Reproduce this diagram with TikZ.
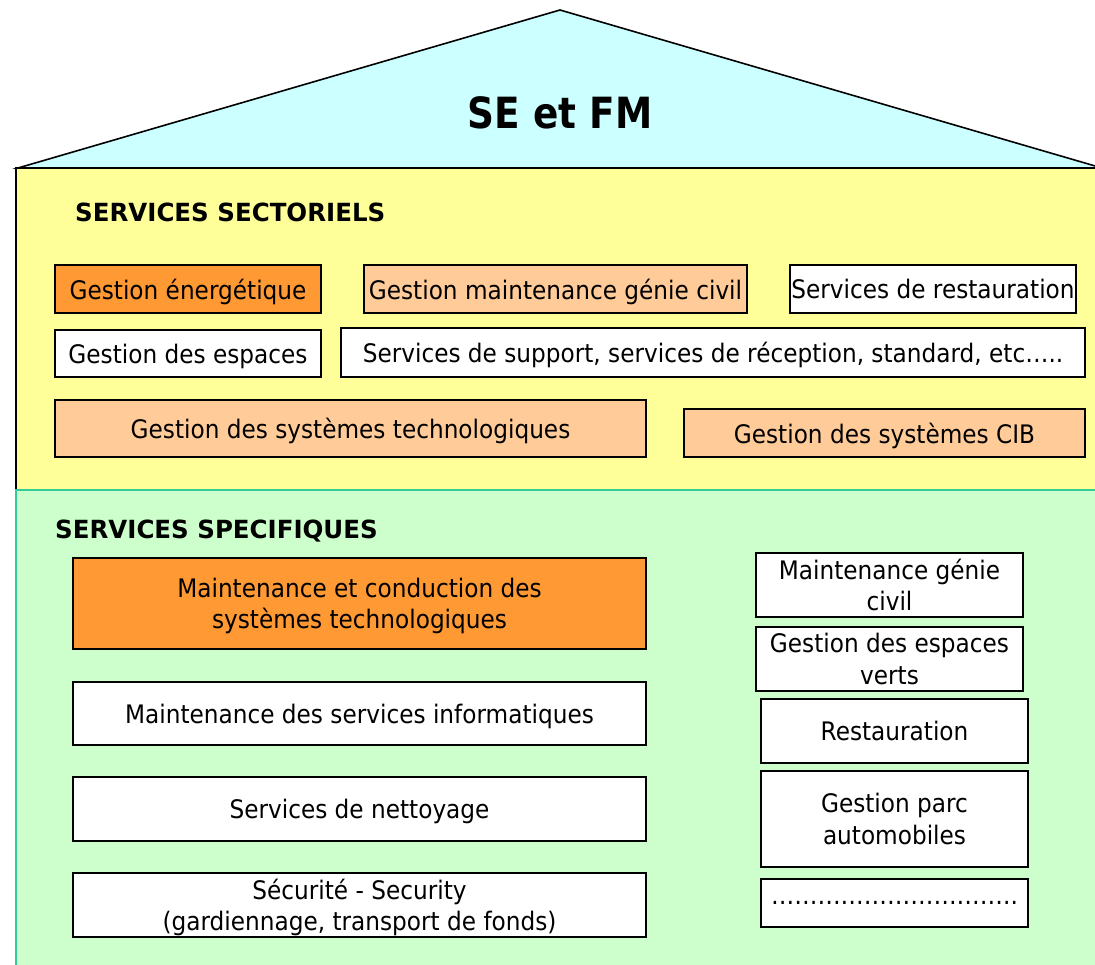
\documentclass[tikz,border=0pt]{standalone}
\usepackage{fontspec}
\setmainfont{DejaVu Sans}[FakeStretch=0.91]
\newfontfamily\headfont{DejaVu Sans}[FakeStretch=0.87]
\newfontfamily\titlefont{DejaVu Sans}[FakeStretch=0.98]
\definecolor{roofc}{HTML}{CCFFFF}
\definecolor{yel}{HTML}{FFFF99}
\definecolor{grn}{HTML}{CCFFCC}
\definecolor{grnb}{HTML}{33CC99}
\definecolor{org}{HTML}{FF9933}
\definecolor{lorg}{HTML}{FFCC99}
\tikzset{
  bx/.style={draw=black, line width=1.2pt, fill=white, inner sep=0pt, align=center,
    text depth=0pt,
    font=\fontsize{25.5}{31.5}\selectfont},
  ttl/.style={inner sep=0pt, anchor=west, font=\titlefont\bfseries\fontsize{25}{29}\selectfont}
}
\begin{document}
\begin{tikzpicture}[x=1pt,y=-1pt]
\useasboundingbox (0,0) rectangle (1095,965);
% roof
\draw[fill=roofc, line width=1.6pt] (18,168) -- (560,10) -- (1102,168) -- cycle;
\node[inner sep=0pt, font=\headfont\bfseries\fontsize{43}{50}\selectfont] (roof) at (560,113) {SE et FM};
% yellow section
\draw[fill=yel, line width=1.5pt] (16,168) rectangle (1110,490);
% green section
\draw[fill=grn, draw=grnb, line width=2pt] (16,490) rectangle (1110,980);
\node[ttl] (t1) at (75,212) {SERVICES SECTORIELS};
\node[ttl] (t2) at (55,531) {SERVICES SPECIFIQUES};
% sectoriels
\node[bx, fill=org, minimum width=266, minimum height=48] (ge) at (188,289) {Gestion énergétique};
\node[bx, fill=lorg, minimum width=383, minimum height=48] (gm) at (555.5,289) {Gestion maintenance génie civil};
\node[bx, minimum width=286, minimum height=48] (sr) at (933,289) {Services de restauration};
\node[bx, minimum width=266, minimum height=47] (gesp) at (188,353.5) {Gestion des espaces};
\node[bx, minimum width=744, minimum height=49] (ss) at (713,352.5) {Services de support, services de réception, standard, etc…..};
\node[bx, fill=lorg, minimum width=591, minimum height=57] (gst) at (350.5,428.5) {Gestion des systèmes technologiques};
\node[bx, fill=lorg, minimum width=401, minimum height=48] (cib) at (884.5,433) {Gestion des systèmes CIB};
% specifiques
\node[bx, fill=org, minimum width=573, minimum height=91] (mc) at (359.5,603.5) {Maintenance et conduction des\\systèmes technologiques};
\node[bx, minimum width=573, minimum height=63] (mi) at (359.5,713.5) {Maintenance des services informatiques};
\node[bx, minimum width=573, minimum height=64] (sn) at (359.5,809) {Services de nettoyage};
\node[bx, minimum width=573, minimum height=64] (sec) at (359.5,905) {Sécurité - Security\\(gardiennage, transport de fonds)};
\node[bx, minimum width=267, minimum height=64] (mg) at (889.5,585) {Maintenance génie\\civil};
\node[bx, minimum width=267, minimum height=64] (gev) at (889.5,659) {Gestion des espaces\\verts};
\node[bx, minimum width=267, minimum height=64] (rest) at (894.5,731) {Restauration};
\node[bx, minimum width=267, minimum height=96] (gpa) at (894.5,819) {Gestion parc\\automobiles};
\node[bx, minimum width=267, minimum height=48] (dots) at (894.5,903) {…………………………..};
\end{tikzpicture}
\end{document}
